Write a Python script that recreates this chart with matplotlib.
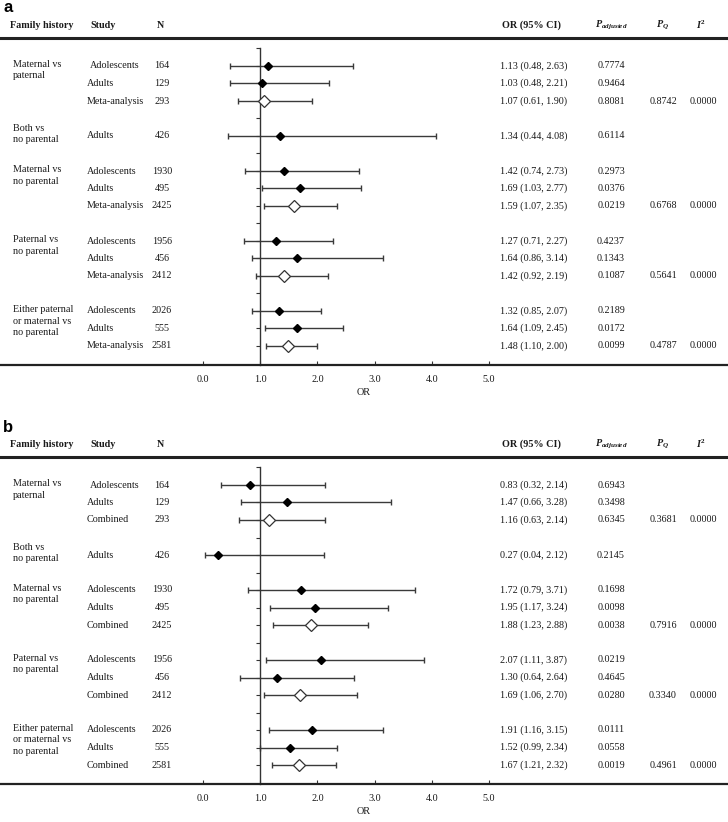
import numpy as np
import matplotlib
matplotlib.use("Agg")
import matplotlib.pyplot as plt

########################################################
# data
group_labels = ["Maternal vs\npaternal", "Both vs\nno parental", "Maternal vs\nno parental",
                "Paternal vs\nno parental", "Either paternal\nor maternal vs\nno parental"]
group_sizes = [3, 1, 3, 3, 3]

n_obs = [164, 129, 293, 426, 1930, 495, 2425, 1956, 456, 2412, 2026, 555, 2581]

study_a = ["Adolescents", "Adults", "Meta-analysis", "Adults",
           "Adolescents", "Adults", "Meta-analysis",
           "Adolescents", "Adults", "Meta-analysis",
           "Adolescents", "Adults", "Meta-analysis"]
or_a = [1.13, 1.03, 1.07, 1.34, 1.42, 1.69, 1.59, 1.27, 1.64, 1.42, 1.32, 1.64, 1.48]
lo_a = [0.48, 0.48, 0.61, 0.44, 0.74, 1.03, 1.07, 0.71, 0.86, 0.92, 0.85, 1.09, 1.10]
hi_a = [2.63, 2.21, 1.90, 4.08, 2.73, 2.77, 2.35, 2.27, 3.14, 2.19, 2.07, 2.45, 2.00]
padj_a = ["0.7774", "0.9464", "0.8081", "0.6114", "0.2973", "0.0376", "0.0219",
          "0.4237", "0.1343", "0.1087", "0.2189", "0.0172", "0.0099"]
pq_a = ["0.8742", "0.6768", "0.5641", "0.4787"]
i2_a = ["0.0000", "0.0000", "0.0000", "0.0000"]

study_b = ["Adolescents", "Adults", "Combined", "Adults",
           "Adolescents", "Adults", "Combined",
           "Adolescents", "Adults", "Combined",
           "Adolescents", "Adults", "Combined"]
or_b = [0.83, 1.47, 1.16, 0.27, 1.72, 1.95, 1.88, 2.07, 1.30, 1.69, 1.91, 1.52, 1.67]
lo_b = [0.32, 0.66, 0.63, 0.04, 0.79, 1.17, 1.23, 1.11, 0.64, 1.06, 1.16, 0.99, 1.21]
hi_b = [2.14, 3.28, 2.14, 2.12, 3.71, 3.24, 2.88, 3.87, 2.64, 2.70, 3.15, 2.34, 2.32]
padj_b = ["0.6943", "0.3498", "0.6345", "0.2145", "0.1698", "0.0098", "0.0038",
          "0.0219", "0.4645", "0.0280", "0.0111", "0.0558", "0.0019"]
pq_b = ["0.3681", "0.7916", "0.3340", "0.4961"]
i2_b = ["0.0000", "0.0000", "0.0000", "0.0000"]

xticks = [0, 1, 2, 3, 4, 5]

########################################################
plt.rcParams['font.family'] = ['Liberation Serif', 'DejaVu Serif']
plt.rcParams['mathtext.fontset'] = 'custom'
plt.rcParams['mathtext.rm'] = 'Liberation Serif'
plt.rcParams['mathtext.it'] = 'Liberation Serif:italic'
plt.rcParams['mathtext.bf'] = 'Liberation Serif:bold'
plt.rcParams['mathtext.bfit'] = 'Liberation Serif:italic:bold'

W, H, DPI = 728, 822, 100
FS = 7.3
TXT = '#1a1a1a'
LN = '#333333'
# layout in pixels (panel a, panel b is shifted down)
ROW0, STEP, TOP, BOT = 66, 17.5, 38, 365
X0, XU = 203, 57.2

fig = plt.figure(figsize=(W / DPI, H / DPI), dpi=DPI)

rows = []
r = 0
for g in group_sizes:
    rows += list(range(r, r + g))
    r += g + 1
rows = np.array(rows)


def yrow(p):
    # pixel (panel-relative) -> row units
    return (p - ROW0) / STEP


def panel(off, label, study, orv, lo, hi, padj, pq, i2):
    ax = fig.add_axes([0, 1 - (BOT + off) / H, 1, (BOT - TOP) / H])
    ax.set_xlim(-X0 / XU, (W - X0) / XU)
    ax.set_ylim(yrow(BOT), yrow(TOP))
    orv, lo, hi = np.array(orv), np.array(lo), np.array(hi)
    pooled = np.array([s in ("Meta-analysis", "Combined") for s in study])

    ax.errorbar(orv, rows, xerr=[orv - lo, hi - orv], fmt='none', ecolor='#3a3a3a',
                elinewidth=1.0, capsize=2.0, capthick=1.0, zorder=2)
    ax.plot(orv[~pooled], rows[~pooled], 'D', ms=4.2, mfc='black', mec='black', zorder=3)
    ax.plot(orv[pooled], rows[pooled], 'D', ms=6.5, mfc='white', mec='#333333', mew=0.9, zorder=3)

    ax.spines['right'].set_visible(False)
    ax.spines['left'].set_position(('data', 1.0))
    ax.spines['left'].set_bounds(yrow(BOT), -1)
    ax.spines['left'].set_color(LN)
    ax.spines['left'].set_linewidth(1.0)
    ax.spines['top'].set_linewidth(2.2)
    ax.spines['top'].set_color('#222222')
    ax.spines['bottom'].set_linewidth(1.6)
    ax.spines['bottom'].set_color('#222222')

    ax.set_yticks(range(-1, 17))
    ax.set_yticklabels([])
    ax.tick_params(axis='y', direction='out', length=3, width=0.8, color=LN)
    ax.set_xticks(xticks)
    ax.set_xticklabels([f"{t:.1f}" for t in xticks], fontsize=FS, color=TXT)
    ax.tick_params(axis='x', direction='in', length=3, width=0.8, color=LN, pad=7)
    ax.patch.set_visible(False)

    tr = ax.get_yaxis_transform()
    hy = yrow(25)
    hd = dict(transform=tr, fontsize=FS, color=TXT, va='center', fontweight='bold')
    ax.text(10 / W, hy, "Family history", ha='left', **hd)
    ax.text(90 / W, hy, "Study", ha='left', **hd)
    ax.text(160 / W, hy, "N", ha='center', **hd)
    ax.text(532 / W, hy, "OR (95% CI)", ha='center', **hd)
    ax.text(611 / W, hy, r"$\mathbfit{P}_{\mathbfit{adjusted}}$", ha='center', **hd)
    ax.text(663 / W, hy, r"$\mathbfit{P}_{\mathbfit{Q}}$", ha='center', **hd)
    ax.text(701 / W, hy, r"$\mathbfit{I}^{\mathbf{2}}$", ha='center', **hd)

    td = dict(transform=tr, fontsize=FS, color=TXT)
    i0 = 0
    for gl, g in zip(group_labels, group_sizes):
        r0 = rows[i0]
        if g == 1:
            ax.text(13 / W, r0 - 0.1, gl, ha='left', va='center', linespacing=1.35, **td)
        else:
            ax.text(13 / W, r0 - 0.32, gl, ha='left', va='top', linespacing=1.3, **td)
        i0 += g

    k = 0
    for i, y in enumerate(rows):
        sx = 90 if i == 0 else 87
        ax.text(sx / W, y, study[i], ha='left', va='center', **td)
        ax.text(162 / W, y, str(n_obs[i]), ha='center', va='center', **td)
        ax.text(500 / W, y, f"{orv[i]:.2f} ({lo[i]:.2f}, {hi[i]:.2f})", ha='left', va='center', **td)
        ax.text(611 / W, y, padj[i], ha='center', va='center', **td)
        if pooled[i]:
            ax.text(663 / W, y, pq[k], ha='center', va='center', **td)
            ax.text(703 / W, y, i2[k], ha='center', va='center', **td)
            k += 1

    ax.text(0.5, yrow(393), "OR", ha='center', va='center', **td)

    fig.text(3 / W, 1 - (8 + off) / H, label, fontfamily='Liberation Sans', fontweight='bold',
             fontsize=12, va='center', ha='left', color='black')
    return ax


panel(0, 'a', study_a, or_a, lo_a, hi_a, padj_a, pq_a, i2_a)
panel(419, 'b', study_b, or_b, lo_b, hi_b, padj_b, pq_b, i2_b)

fig.savefig("out.png", dpi=DPI)
